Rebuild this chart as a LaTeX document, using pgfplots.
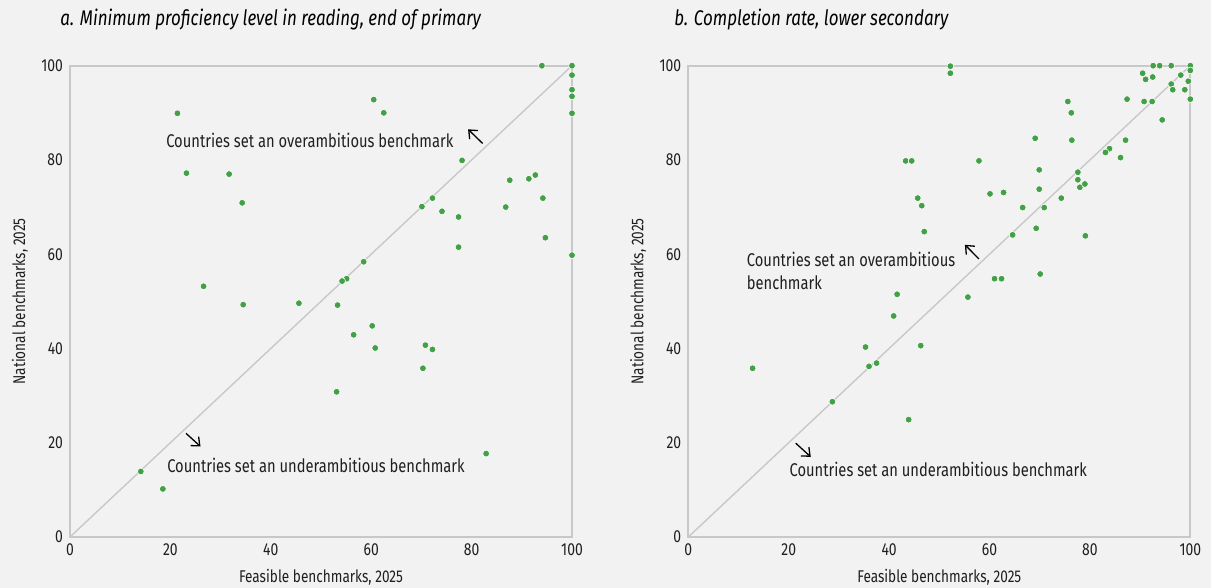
\documentclass[border=0pt]{standalone}
\usepackage{fontspec}
\setmainfont{Fira Sans}[FakeStretch=0.8]
\usepackage{pgfplots}
\pgfplotsset{compat=1.18}
\usetikzlibrary{arrows.meta}

\definecolor{bg}{HTML}{F2F2F2}
\definecolor{frame}{HTML}{C8C8C8}
\definecolor{dot}{HTML}{43A047}

\pgfplotsset{
  gemaxis/.style={
    scale only axis,
    width=251pt, height=235.65pt,
    anchor=south west,
    xmin=0, xmax=100, ymin=0, ymax=100,
    xtick={0,20,...,100}, ytick={0,20,...,100},
    major tick length=0pt,
    axis line style={frame, line width=0.9pt},
    tick label style={font=\fontsize{8.7}{10}\selectfont, text=black!88},
    /pgf/number format/assume math mode=true,
    label style={font=\fontsize{8.5}{10}\selectfont, text=black!88},
    xlabel={Feasible benchmarks, 2025},
    ylabel={National benchmarks, 2025},
    xlabel style={at={(axis description cs:0.5,-0.085)}, anchor=center},
    ylabel style={at={(axis description cs:-0.1,0.5)}, anchor=center},
    clip=false,
  },
  dots/.style={only marks, mark=*, mark size=1.7pt,
    mark options={fill=dot, draw=white, line width=0.3pt}},
}
\tikzset{
  note/.style={font=\fontsize{9.2}{11.5}\selectfont, text=black!88, inner sep=0pt},
  arr/.style={-{Straight Barb[length=3.5pt,width=6pt]}, line width=0.65pt, black},
}

\begin{document}
\begin{tikzpicture}
\fill[bg] (0,0) rectangle (605.5pt,294pt);
\useasboundingbox (0,0) rectangle (605.5pt,294pt);

\node[anchor=west, inner sep=0pt, font=\itshape\fontsize{10.6}{12}\selectfont] at (30pt,284pt)
  {a. Minimum proficiency level in reading, end of primary};
\node[anchor=west, inner sep=0pt, font=\itshape\fontsize{10.6}{12}\selectfont] at (337pt,284pt)
  {b. Completion rate, lower secondary};

% panel a
\begin{axis}[gemaxis, at={(35pt,25.5pt)}]
\addplot[frame, line width=0.7pt] coordinates {(0,0) (100,100)};
\addplot[dots] coordinates {
(94,100) (100,100) (100,98) (100,94.9) (100,93.5) (100,89.9)
(21.4,89.9) (60.5,92.8) (62.5,90) (78.1,79.9) (23.2,77.2) (31.7,77.0)
(34.3,70.9) (26.6,53.2) (34.5,49.3) (45.6,49.6) (14.1,13.9) (18.5,10.2)
(87.6,75.7) (91.4,76.0) (92.7,76.8) (94.2,71.9) (86.8,70.0) (94.7,63.5)
(100,59.8) (72.2,71.9) (70.1,70.1) (74.1,69.1) (77.4,67.9) (77.4,61.5)
(58.5,58.4) (55.1,54.8) (54.2,54.3) (53.3,49.2) (60.2,44.8) (56.5,42.9)
(60.8,40.1) (70.8,40.7) (72.2,39.8) (70.3,35.8) (53.1,30.8) (82.9,17.7)
};
\node[note, anchor=west] at (axis cs:19.1,84.1) {Countries set an overambitious benchmark};
\draw[arr] (axis cs:82.2,83.5) -- (axis cs:79.3,86.5);
\draw[arr] (axis cs:23.1,22.0) -- (axis cs:26.0,19.2);
\node[note, anchor=west] at (axis cs:19.3,15.1) {Countries set an underambitious benchmark};
\end{axis}

% panel b
\begin{axis}[gemaxis, at={(344.15pt,25.5pt)}]
\addplot[frame, line width=0.7pt] coordinates {(0,0) (100,100)};
\addplot[dots] coordinates {
(52.2,99.9) (52.2,98.4) (92.6,100) (93.9,100) (96.2,100) (100,100) (100,99)
(90.5,98.4) (91.1,97.1) (92.5,97.6) (98.1,98.0) (96.2,96.1) (99.6,96.7)
(96.5,94.9) (98.9,94.9) (100,92.9) (87.4,92.9) (90.8,92.4) (92.4,92.4)
(94.4,88.5) (75.6,92.4) (76.3,90.0) (76.4,84.2) (69.1,84.6) (87.1,84.2)
(83.9,82.4) (83.1,81.6) (86.1,80.5) (57.9,79.8) (43.3,79.8) (44.5,79.8)
(69.9,77.9) (77.6,77.4) (77.6,75.8) (78.0,74.2) (79.0,74.9) (69.9,73.8)
(62.8,73.1) (60.1,72.8) (74.3,71.9) (45.7,71.9) (46.5,70.3) (66.6,69.9)
(70.9,69.9) (47.0,64.8) (69.3,65.5) (64.6,64.1) (79.1,63.9) (61.0,54.8)
(62.4,54.8) (70.1,55.8) (55.7,50.9) (41.6,51.5) (40.9,46.9) (35.3,40.3)
(46.3,40.6) (36.0,36.2) (37.5,36.9) (12.8,35.8) (28.7,28.7) (43.9,24.9)
};
\node[note, anchor=west, align=left] at (axis cs:11.6,56.5) {Countries set an overambitious\\benchmark};
\draw[arr] (axis cs:57.9,59.0) -- (axis cs:55.1,62.0);
\draw[arr] (axis cs:21.4,19.9) -- (axis cs:24.4,17.0);
\node[note, anchor=west] at (axis cs:20.1,14.4) {Countries set an underambitious benchmark};
\end{axis}
\end{tikzpicture}
\end{document}
